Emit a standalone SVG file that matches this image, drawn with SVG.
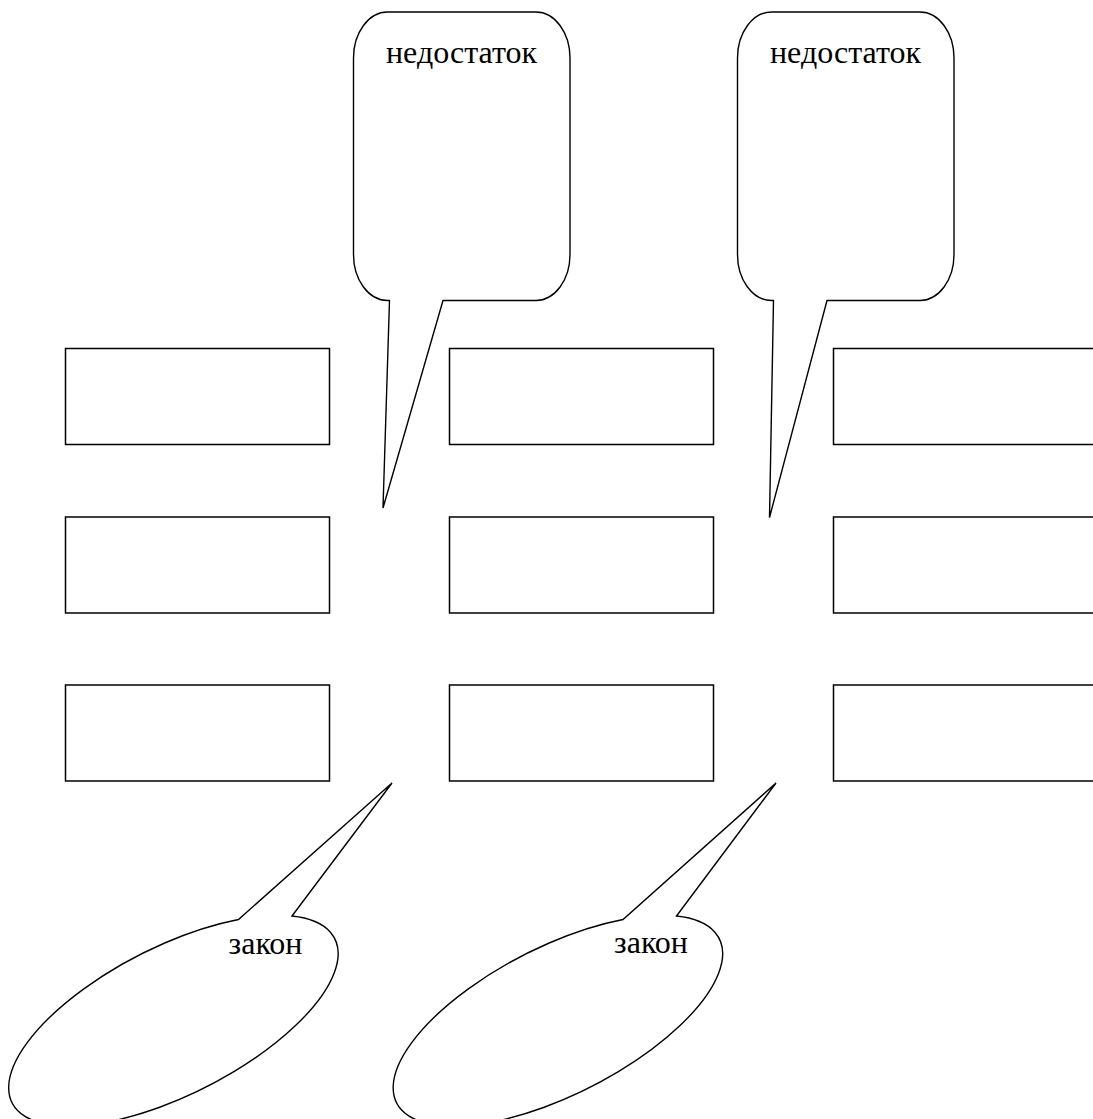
<svg xmlns="http://www.w3.org/2000/svg" width="1093" height="1119" viewBox="0 0 1093 1119">
<style>
.box{fill:#fff;stroke:#000;stroke-width:1.5}
.call{fill:#fff;stroke:#000;stroke-width:1.4;stroke-linejoin:miter}
.t{font-size:32px;fill:#000;text-anchor:middle}
</style>
<rect width="1093" height="1119" fill="#fff"/>
<g id="connectors"></g>
<g id="box-r1c1"><rect class="box" x="65.5" y="348.5" width="264" height="96"/></g>
<g id="box-r1c2"><rect class="box" x="449.5" y="348.5" width="264" height="96"/></g>
<g id="box-r1c3"><rect class="box" x="833.5" y="348.5" width="264" height="96"/></g>
<g id="box-r2c1"><rect class="box" x="65.5" y="517" width="264" height="96"/></g>
<g id="box-r2c2"><rect class="box" x="449.5" y="517" width="264" height="96"/></g>
<g id="box-r2c3"><rect class="box" x="833.5" y="517" width="264" height="96"/></g>
<g id="box-r3c1"><rect class="box" x="65.5" y="685" width="264" height="96"/></g>
<g id="box-r3c2"><rect class="box" x="449.5" y="685" width="264" height="96"/></g>
<g id="box-r3c3"><rect class="box" x="833.5" y="685" width="264" height="96"/></g>
<g font-family="'Liberation Serif', 'DejaVu Serif', serif">
<g id="callout-top-1">
<path class="call" d="M387.5 12 H536 A34 46 0 0 1 570 58 V254.5 A34 46 0 0 1 536 300.5 H443 L383 508 L389.5 300.5 H387.5 A34 46 0 0 1 353.5 254.5 V58 A34 46 0 0 1 387.5 12 Z"/>
<text class="t" x="461.5" y="63">недостаток</text>
</g>
<g id="callout-top-2">
<path class="call" d="M771.5 12 H920 A34 46 0 0 1 954 58 V254.5 A34 46 0 0 1 920 300.5 H827 L769.5 517.5 L773.5 300.5 H771.5 A34 46 0 0 1 737.5 254.5 V58 A34 46 0 0 1 771.5 12 Z"/>
<text class="t" x="845.5" y="63">недостаток</text>
</g>
<g id="callout-bottom-1">
<path class="call" d="M238.5 919.5 A181 74 -27 1 0 292 916 L392 783 Z"/>
<text class="t" x="265.5" y="954">закон</text>
</g>
<g id="callout-bottom-2">
<path class="call" d="M623 919.5 A181 74 -27 1 0 676.5 916 L776 783 Z"/>
<text class="t" x="651" y="953">закон</text>
</g>
</g>
</svg>
